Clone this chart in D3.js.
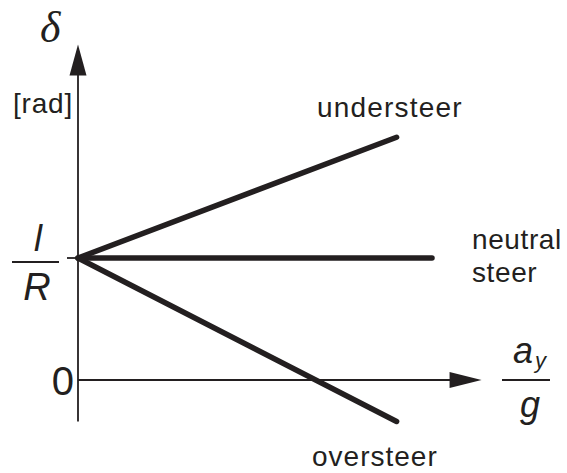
<!DOCTYPE html>
<html>
<head>
<meta charset="utf-8">
<script src="https://cdn.jsdelivr.net/npm/d3@7"></script>
<style>
  body { margin: 0; background: #fff; }
  text { fill: #231f20; font-family: "Liberation Sans", Arial, sans-serif; }
</style>
</head>
<body>
<svg width="567" height="473"></svg>
<script>
// steering angle vs lateral acceleration, in chart units (l/R = 1)
var lineNames = ["understeer", "neutral", "oversteer"];
var lineStart = [0, 1];
var lineEnds = [[0.9, 1.99], [1.0, 1.0], [0.9, -0.34]];
var yTicks = [0, 1];
var xAxisEnd = 1.14;
var yAxisRange = [-0.34, 2.75];

var svg = d3.select("svg");
var ink = "#231f20";

var x = d3.scaleLinear().domain([0, 1]).range([78, 432]);
var y = d3.scaleLinear().domain([0, 1]).range([380, 258]);

// axes
svg.append("line")
    .attr("x1", x(0)).attr("y1", y(yAxisRange[0]))
    .attr("x2", x(0)).attr("y2", y(yAxisRange[1]) + 20)
    .attr("stroke", ink).attr("stroke-width", 1.8);

svg.append("line")
    .attr("x1", x(0)).attr("y1", y(0))
    .attr("x2", x(xAxisEnd) - 20).attr("y2", y(0))
    .attr("stroke", ink).attr("stroke-width", 1.8);

// arrow heads
var yt = y(yAxisRange[1]), xt = x(xAxisEnd);
svg.append("path")
    .attr("d", "M" + x(0) + "," + yt + "L" + (x(0) - 8.5) + "," + (yt + 31) + "L" + (x(0) + 8.5) + "," + (yt + 31) + "Z")
    .attr("fill", ink);
svg.append("path")
    .attr("d", "M" + xt + "," + y(0) + "L" + (xt - 32) + "," + (y(0) - 8) + "L" + (xt - 32) + "," + (y(0) + 8) + "Z")
    .attr("fill", ink);

// tick at l/R
svg.append("line")
    .attr("x1", x(0) - 11).attr("y1", y(yTicks[1]))
    .attr("x2", x(0)).attr("y2", y(yTicks[1]))
    .attr("stroke", ink).attr("stroke-width", 1.8);

// the three steer lines
svg.append("g")
    .selectAll("line")
    .data(lineEnds)
    .enter()
    .append("line")
    .attr("x1", x(lineStart[0]))
    .attr("y1", y(lineStart[1]))
    .attr("x2", function(d) { return x(d[0]); })
    .attr("y2", function(d) { return y(d[1]); })
    .attr("stroke", ink)
    .attr("stroke-width", 5.5)
    .attr("stroke-linecap", "round");

// labels
svg.append("text")
    .attr("x", 317).attr("y", 117)
    .style("font-size", "28px").style("letter-spacing", "1.2px")
    .text(lineNames[0]);

svg.append("text")
    .attr("x", 472).attr("y", 249)
    .style("font-size", "28px").style("letter-spacing", "0.6px")
    .text(lineNames[1]);
svg.append("text")
    .attr("x", 472).attr("y", 282)
    .style("font-size", "28px").style("letter-spacing", "0.6px")
    .text("steer");

svg.append("text")
    .attr("x", 312).attr("y", 466)
    .style("font-size", "28px").style("letter-spacing", "1px")
    .text(lineNames[2]);

svg.append("text")
    .attr("x", 13).attr("y", 113)
    .style("font-size", "28px").style("letter-spacing", "0.8px")
    .text("[rad]");

// delta
svg.append("text")
    .attr("x", 40).attr("y", 42)
    .style("font-family", "'Liberation Serif', 'Times New Roman', serif")
    .style("font-style", "italic")
    .style("font-size", "44px")
    .text("δ");

// y tick labels
svg.append("text")
    .attr("x", 74).attr("y", y(yTicks[0]) + 15)
    .attr("text-anchor", "end")
    .style("font-size", "40px")
    .text(yTicks[0]);

svg.append("line")
    .attr("x1", 12).attr("x2", 59)
    .attr("y1", y(yTicks[1]) + 4).attr("y2", y(yTicks[1]) + 4)
    .attr("stroke", ink).attr("stroke-width", 2);
svg.append("text")
    .attr("x", 38).attr("y", 251)
    .attr("text-anchor", "middle")
    .style("font-style", "italic").style("font-size", "36px")
    .text("l");
svg.append("text")
    .attr("x", 37).attr("y", 300)
    .attr("text-anchor", "middle")
    .style("font-style", "italic").style("font-size", "38px")
    .text("R");

// x axis label a_y / g
svg.append("line")
    .attr("x1", 502).attr("x2", 550)
    .attr("y1", y(0)).attr("y2", y(0))
    .attr("stroke", ink).attr("stroke-width", 2);
svg.append("text")
    .attr("x", 513).attr("y", 363)
    .style("font-style", "italic").style("font-size", "36px")
    .text("a");
svg.append("text")
    .attr("x", 535).attr("y", 368)
    .style("font-style", "italic").style("font-size", "22px")
    .text("y");
svg.append("text")
    .attr("x", 530).attr("y", 417)
    .attr("text-anchor", "middle")
    .style("font-style", "italic").style("font-size", "36px")
    .text("g");
</script>
</body>
</html>
